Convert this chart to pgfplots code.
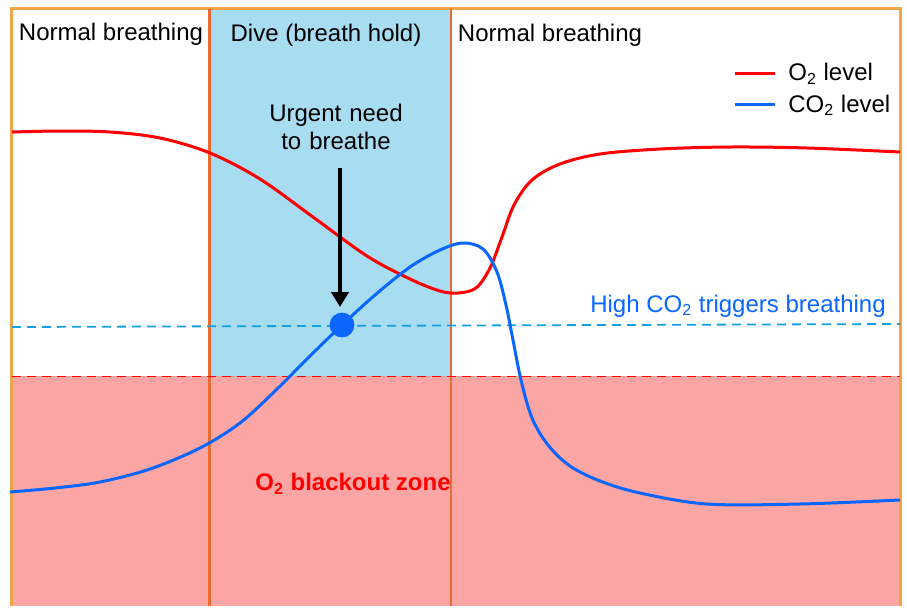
\documentclass[border=0pt]{standalone}
\usepackage{fontspec}
\setmainfont{Liberation Sans}
\usepackage{pgfplots}
\pgfplotsset{compat=1.18}
\usetikzlibrary{arrows.meta}
\definecolor{frameor}{HTML}{F0A445}
\definecolor{divor}{HTML}{EC6A30}
\definecolor{diveblue}{HTML}{A8DCF1}
\definecolor{zonepink}{HTML}{FCA5A5}
\definecolor{otwo}{HTML}{FF0000}
\definecolor{cotwo}{HTML}{0A66FF}
\definecolor{trigblue}{HTML}{14A0E0}
\begin{document}
\begin{tikzpicture}[font=\fontsize{12}{14.4}\selectfont]
\begin{axis}[
  scale only axis, width=453.5pt, height=303pt,
  xmin=0, xmax=907, ymin=0, ymax=606, y dir=reverse,
  hide axis, clip=false,
  legend style={at={(axis cs:733,59)}, anchor=north west, draw=none, fill=none,
    font=\fontsize{12}{14.4}\selectfont, row sep=1.5pt, inner sep=0pt,
    /tikz/every even column/.append style={column sep=0pt}},
  legend cell align=left,
  legend image code/.code={\draw[#1] (0pt,0pt) -- (20pt,0pt);},
  legend entries={\hspace{4pt}O\textsubscript{2} level,\hspace{4pt}CO\textsubscript{2} level},
]
% background
\addplot[forget plot, fill=white, draw=none] coordinates {(0,0)(907,0)(907,606)(0,606)} --cycle;
% dive region
\addplot[forget plot, fill=diveblue, draw=none] coordinates {(209,8)(451,8)(451,376)(209,376)} --cycle;
% blackout zone
\addplot[forget plot, fill=zonepink, draw=none] coordinates {(12,376)(900,376)(900,606)(12,606)} --cycle;
% frame
\addplot[forget plot, draw=frameor, line width=1.3pt] coordinates {(11.5,606)(11.5,8.5)(900.5,8.5)(900.5,606)};
% dividers
\addplot[forget plot, draw=divor, line width=1.2pt] coordinates {(209.5,8.5)(209.5,606)};
\addplot[forget plot, draw=divor, line width=1.2pt] coordinates {(451,8.5)(451,606)};
% threshold lines
\addplot[forget plot, draw=otwo, line width=0.9pt, dash pattern=on 4.5pt off 3pt] coordinates {(12,376.5)(900,376.5)};
\addplot[forget plot, draw=trigblue, line width=0.9pt, dash pattern=on 4.5pt off 3pt] coordinates {(12,327)(900,324)};
% O2 curve
\addplot[draw=otwo, line width=1.5pt, smooth, tension=0.55] coordinates {
(12,132)(60,131)(110,132)(160,138)(210,153)(260,179)(313,217)(367,256)
(410,279)(440,291)(458,293)(476,288)(490,268)(502,237)(514,205)(532,180)
(560,164)(600,154)(660,149)(730,147)(807,148)(900,152)};
% CO2 curve
\addplot[draw=cotwo, line width=1.5pt, smooth, tension=0.55] coordinates {
(10,492)(55,488)(100,482)(150,469)(200,448)(240,423)(275,391)(310,356)
(342,325)(375,295)(410,267)(440,250)(463,243)(483,249)(497,272)(506,305)
(513,340)(521,380)(532,418)(548,445)(570,466)(600,481)(640,493)(707,504)
(800,504)(900,500)};
% trigger point
\addplot[forget plot, only marks, mark=*, mark size=6pt, color=cotwo] coordinates {(342,325)};
% arrow
\addplot[forget plot, draw=black, line width=2pt, -{Triangle[width=8.5pt,length=7.5pt]}] coordinates {(340,168)(340,307)};
% texts
\node at (axis cs:111,34) {Normal breathing};
\node at (axis cs:326,35) {Dive (breath hold)};
\node at (axis cs:550,35) {Normal breathing};
\node[align=center, text width=100pt] at (axis cs:336,127) {Urgent need\\to breathe};
\node[text=cotwo] at (axis cs:738,306) {High CO\textsubscript{2} triggers breathing};
\node[text=otwo, font=\fontsize{12}{14.4}\selectfont\bfseries] at (axis cs:353,484) {O\textsubscript{2} blackout zone};
\end{axis}
\end{tikzpicture}
\end{document}
